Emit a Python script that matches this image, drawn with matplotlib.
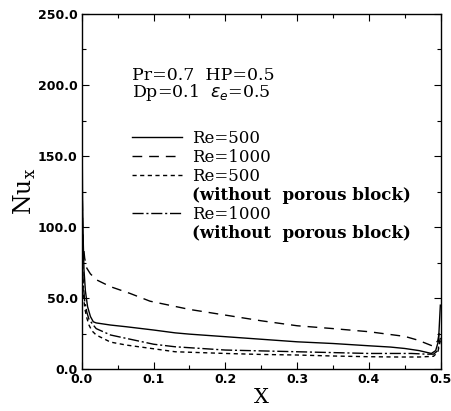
import matplotlib
matplotlib.use("Agg")
import matplotlib.pyplot as plt
from matplotlib.lines import Line2D
from matplotlib.ticker import MultipleLocator, FormatStrFormatter

# Re=500 with porous block (solid)
x_re500 = [0.0005, 0.001, 0.002, 0.003, 0.005, 0.008, 0.012, 0.016, 0.02, 0.04, 0.062, 0.1, 0.13, 0.15,
           0.2, 0.25, 0.3, 0.35, 0.4, 0.43, 0.45, 0.47, 0.487, 0.493, 0.497, 0.4995]
y_re500 = [158, 120, 90, 70, 55, 44, 37, 33.3, 32.5, 31, 29.8, 27.5, 25.5, 24.6,
           22.8, 21, 19.2, 18, 16.4, 15.5, 14.5, 13, 11, 13, 20, 45]

# Re=1000 with porous block (dashed)
x_re1000 = [0.0005, 0.001, 0.002, 0.004, 0.007, 0.012, 0.021, 0.04, 0.067, 0.095, 0.15,
            0.2, 0.25, 0.3, 0.35, 0.4, 0.45, 0.468, 0.49, 0.496, 0.4995]
y_re1000 = [130, 105, 88, 78, 71, 67, 62.7, 58, 53.3, 47.8, 42,
            38, 34, 30.5, 28.5, 26.3, 23, 20.4, 16, 20, 30]

# Re=500 without porous block (short dashed)
x_re500_np = [0.0005, 0.001, 0.002, 0.004, 0.007, 0.01, 0.014, 0.02, 0.04, 0.062, 0.1, 0.13,
              0.2, 0.25, 0.3, 0.35, 0.4, 0.44, 0.47, 0.49, 0.496, 0.4995]
y_re500_np = [90, 70, 55, 43, 36, 31, 27, 24, 19, 16.9, 14.3, 12.2,
              11, 10.3, 9.9, 9.2, 8.7, 8.5, 8.5, 9, 12, 20]

# Re=1000 without porous block (dash-dot)
x_re1000_np = [0.0005, 0.001, 0.002, 0.004, 0.007, 0.01, 0.016, 0.02, 0.04, 0.062, 0.1, 0.13,
               0.2, 0.25, 0.3, 0.35, 0.4, 0.459, 0.48, 0.49, 0.496, 0.4995]
y_re1000_np = [95, 75, 60, 48, 40, 35, 31, 28.5, 24, 21.6, 17.5, 15.7,
               13.4, 12.8, 12.2, 11.6, 11, 11, 10.5, 10.5, 13, 22]

series_labels = ["Re=500", "Re=1000", "Re=500", "Re=1000"]
note_label = "(without  porous block)"
x_ticks = [0.0, 0.1, 0.2, 0.3, 0.4, 0.5]
y_ticks = [0.0, 50.0, 100.0, 150.0, 200.0, 250.0]

fig = plt.figure(figsize=(4.52, 4.11), dpi=100)
ax = fig.add_axes([0.181, 0.102, 0.794, 0.864])

lw = 1.0
h1, = ax.plot(x_re500, y_re500, color="black", lw=lw, ls="-")
h2, = ax.plot(x_re1000, y_re1000, color="black", lw=lw, ls=(0, (7, 5)))
h3, = ax.plot(x_re500_np, y_re500_np, color="black", lw=lw, ls=(0, (3, 2.5)))
h4, = ax.plot(x_re1000_np, y_re1000_np, color="black", lw=lw, ls=(0, (8, 2, 1.5, 2)))

ax.set_xlim(0.0, 0.5)
ax.set_ylim(0.0, 250.0)
ax.set_xticks(x_ticks)
ax.set_yticks(y_ticks)
ax.xaxis.set_major_formatter(FormatStrFormatter("%.1f"))
ax.yaxis.set_major_formatter(FormatStrFormatter("%.1f"))
ax.xaxis.set_minor_locator(MultipleLocator(0.05))
ax.yaxis.set_minor_locator(MultipleLocator(25))
ax.tick_params(which="both", direction="in", top=True, right=True, width=0.8)
ax.tick_params(which="major", length=5, pad=3)
ax.tick_params(which="minor", length=3)
for lab in ax.get_xticklabels() + ax.get_yticklabels():
    lab.set_fontweight("bold")
    lab.set_fontsize(9)
    lab.set_family("DejaVu Sans")
for s in ax.spines.values():
    s.set_linewidth(1.0)

ax.set_xlabel("X", family="DejaVu Serif", fontsize=15, labelpad=1)
ax.set_ylabel(r"Nu$_\mathregular{x}$", family="DejaVu Serif", fontsize=17, labelpad=0)

ax.text(0.141, 0.815, "Pr=0.7  HP=0.5", transform=ax.transAxes,
        family="DejaVu Serif", fontsize=12.5)
ax.text(0.141, 0.765, r"Dp=0.1  $\varepsilon_e$=0.5", transform=ax.transAxes,
        family="DejaVu Serif", fontsize=12.5)

blank = Line2D([], [], color="none")
handles = [h1, h2, h3, blank, h4, blank]
labels = [series_labels[0], series_labels[1], series_labels[2], note_label,
          series_labels[3], note_label]
leg = ax.legend(handles, labels, loc="upper left", bbox_to_anchor=(0.14, 0.673),
                frameon=False, handlelength=3.0, handletextpad=0.6, labelspacing=0.12,
                borderaxespad=0, borderpad=0, prop={"family": "DejaVu Serif", "size": 12})
for i, t in enumerate(leg.get_texts()):
    if labels[i] == note_label:
        t.set_fontweight("bold")

fig.savefig("out.png", dpi=100)
